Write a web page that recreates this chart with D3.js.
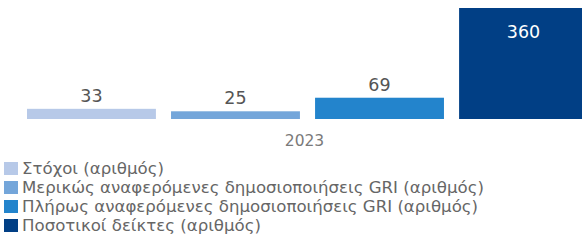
<!DOCTYPE html>
<html><head><meta charset="utf-8">
<script src="https://cdn.jsdelivr.net/npm/d3@7/dist/d3.min.js"></script>
<style>body{margin:0;background:#fff;}svg{display:block;}</style>
</head><body>
<svg id="c" width="582" height="244"></svg>
<script>
const categories = ["2023"];
const seriesNames = ["Στόχοι (αριθμός)","Μερικώς αναφερόμενες δημοσιοποιήσεις GRI (αριθμός)","Πλήρως αναφερόμενες δημοσιοποιήσεις GRI (αριθμός)","Ποσοτικοί δείκτες (αριθμός)"];
const seriesValues = [33, 25, 69, 360];
const colors = ["#b7c9e8","#74a6da","#2384cc","#013f85"];

const svg = d3.select("#c");
const font = "'DejaVu Sans', sans-serif";
const baseY = 119, topY = 8;
const x0 = d3.scaleBand().domain(categories).range([27, 588]);
const x1 = d3.scaleBand().domain(seriesNames).range([0, x0.bandwidth()]).paddingInner(0.105);
const y = d3.scaleLinear().domain([0, 360]).range([baseY, topY]);

const g = svg.append("g");
categories.forEach(cat => {
  seriesNames.forEach((s, i) => {
    const v = seriesValues[i];
    const bx = x0(cat) + x1(s);
    g.append("rect").attr("x", bx).attr("y", y(v)).attr("width", x1.bandwidth())
      .attr("height", baseY - y(v)).attr("fill", colors[i]);
    const inside = (baseY - y(v)) > 40;
    g.append("text").attr("x", bx + x1.bandwidth()/2)
      .attr("y", inside ? y(v) + 30 : y(v) - 7)
      .attr("text-anchor", "middle").attr("font-family", font).attr("font-size", 17.5)
      .attr("fill", inside ? "#ffffff" : "#555555").text(v);
  });
  g.append("text").attr("x", x0(cat) + x0.bandwidth()/2 - 3).attr("y", 146)
    .attr("text-anchor", "middle").attr("font-family", font).attr("font-size", 15.5)
    .attr("fill", "#7a7a7a").text(cat);
});

const leg = svg.append("g");
seriesNames.forEach((s, i) => {
  const ly = 168.5 + i * 19;
  leg.append("rect").attr("x", 4).attr("y", ly - 6.5).attr("width", 14).attr("height", 13).attr("fill", colors[i]);
  leg.append("text").attr("x", 22).attr("y", ly + 5.5).attr("font-family", font)
    .attr("font-size", 16.6).attr("fill", "#666666").text(s);
});
</script>
</body></html>
